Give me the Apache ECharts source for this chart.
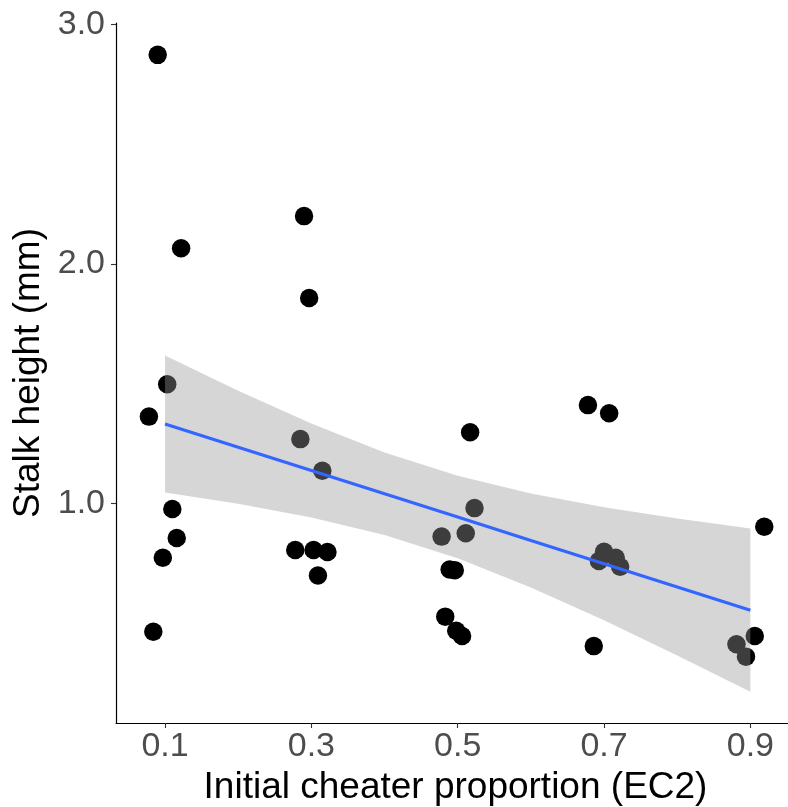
<!DOCTYPE html>
<html>
<head>
<meta charset="utf-8">
<script src="https://cdn.jsdelivr.net/npm/echarts@6/dist/echarts.min.js"></script>
<style>html,body{margin:0;padding:0;background:#fff}#c{width:788px;height:807px}</style>
</head>
<body>
<div id="c"></div>
<script>
// Observed points
var xVals = [0.090,0.122,0.103,0.078,0.110,0.116,0.097,0.084,0.290,0.297,0.285,0.315,0.278,0.303,0.322,0.309,0.517,0.523,0.511,0.478,0.489,0.496,0.483,0.498,0.506,0.678,0.707,0.700,0.693,0.716,0.722,0.686,0.919,0.906,0.881,0.894];
var yVals = [2.872,2.065,1.497,1.362,0.976,0.855,0.773,0.464,2.199,1.857,1.268,1.136,0.805,0.805,0.797,0.699,1.297,0.980,0.875,0.861,0.724,0.721,0.527,0.468,0.446,1.410,1.376,0.798,0.759,0.773,0.735,0.404,0.902,0.446,0.412,0.360];
// Linear fit and confidence band
var fitX = [0.1,0.2,0.3,0.4,0.5,0.6,0.7,0.8,0.9];
var fitY = [1.331,1.234,1.137,1.040,0.943,0.845,0.748,0.651,0.554];
var bandLower = [1.045,0.998,0.941,0.868,0.771,0.649,0.512,0.365,0.213];
var bandUpper = [1.617,1.470,1.333,1.212,1.115,1.041,0.984,0.937,0.895];
// Tick labels
var xTicks = [0.1,0.3,0.5,0.7,0.9];
var yTicks = [1.0,2.0,3.0];

var pts = xVals.map(function(x,i){return [x,yVals[i]];});
var line = fitX.map(function(x,i){return [x,fitY[i]];});
var band = fitX.map(function(x,i){return [x,bandLower[i],bandUpper[i]];});

var FONT = '"Liberation Sans", Arial, sans-serif';
var chart = echarts.init(document.getElementById('c'), null, {renderer:'canvas'});
chart.setOption({
  animation:false,
  backgroundColor:'#ffffff',
  grid:{left:116, top:23, width:679, height:700, containLabel:false, outerBoundsMode:'none'},
  xAxis:{
    type:'value', min:0.033, max:0.961,
    name:'Initial cheater proportion (EC2)', nameLocation:'middle', nameGap:45,
    nameTextStyle:{fontFamily:FONT, fontSize:37, color:'#000'},
    axisLine:{show:true, lineStyle:{color:'#000', width:1.2}},
    axisTick:{show:true, length:5, lineStyle:{color:'#333', width:1.1}, customValues:xTicks},
    axisLabel:{fontFamily:FONT, fontSize:34, color:'#4D4D4D', margin:7, customValues:xTicks,
      formatter:function(v){return v.toFixed(1);}},
    splitLine:{show:false}
  },
  yAxis:{
    type:'value', min:0.083, max:3.005,
    name:'Stalk height (mm)', nameLocation:'middle', nameGap:64, nameRotate:90,
    nameTextStyle:{fontFamily:FONT, fontSize:37, color:'#000'},
    axisLine:{show:true, lineStyle:{color:'#000', width:1.2}},
    axisTick:{show:true, length:5, lineStyle:{color:'#333', width:1.1}, customValues:yTicks},
    axisLabel:{fontFamily:FONT, fontSize:34, color:'#4D4D4D', margin:11, customValues:yTicks,
      formatter:function(v){return v.toFixed(1);}},
    splitLine:{show:false}
  },
  series:[
    {type:'scatter', data:pts, symbol:'circle', symbolSize:18.5, itemStyle:{color:'#000', opacity:1}, z:2},
    {type:'custom', z:3, data:band,
      renderItem:function(params, api){
        if(params.dataIndex!==0) return null;
        var up=[], lo=[];
        for(var i=0;i<band.length;i++){
          up.push(api.coord([band[i][0], band[i][2]]));
          lo.push(api.coord([band[i][0], band[i][1]]));
        }
        var poly = up.concat(lo.reverse());
        return {type:'polygon', shape:{points:poly}, style:{fill:'rgba(153,153,153,0.4)', stroke:null}};
      }
    },
    {type:'line', data:line, showSymbol:false, symbol:'none', lineStyle:{color:'#3366FF', width:3.2}, z:4}
  ]
});
</script>
</body>
</html>
